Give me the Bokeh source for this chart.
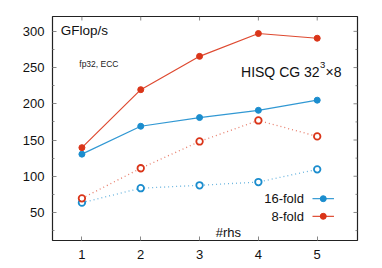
import math
from bokeh.plotting import figure
from bokeh.models import Range1d, FixedTicker
from bokeh.core.properties import value
from bokeh.embed import file_html
from bokeh.resources import INLINE

rhs = [1, 2, 3, 4, 5]
fold16_solid = [130.5, 169, 181, 191, 205]
fold8_solid = [139.5, 219.5, 265.5, 297, 290.5]
fold16_dotted = [63.5, 83.5, 87.5, 92, 109.5]
fold8_dotted = [69.5, 111, 148, 177, 155]
series_names = ["16-fold", "8-fold"]
x_ticks = [1, 2, 3, 4, 5]
y_ticks = [50, 100, 150, 200, 250, 300]
y_minor = [25, 75, 125, 175, 225, 275]

BLUE = "#1b8dce"
RED = "#da3519"
FONT = "Liberation Sans"

x0, x1 = 0.5, 5.685
y0, y1 = 11.3, 320.5

p = figure(width=382, height=268, output_backend="svg", toolbar_location=None,
           x_range=Range1d(x0, x1), y_range=Range1d(y0, y1),
           min_border_left=52, min_border_right=25, min_border_top=16, min_border_bottom=28)
p.grid.visible = False
p.outline_line_color = "#222222"
p.outline_line_width = 1.2
p.background_fill_color = "white"
p.border_fill_color = "white"

for ax in (p.xaxis[0], p.yaxis[0]):
    ax.axis_line_color = None
    ax.major_tick_in = 4
    ax.major_tick_out = 0
    ax.minor_tick_in = 2
    ax.minor_tick_out = 0
    ax.major_tick_line_color = "#888888"
    ax.minor_tick_line_color = "#888888"
    ax.major_label_text_font = FONT
    ax.major_label_text_font_size = "13px"
    ax.major_label_text_color = "#111111"
p.xaxis.ticker = FixedTicker(ticks=x_ticks)
p.yaxis.ticker = FixedTicker(ticks=y_ticks, minor_ticks=y_minor)
p.xaxis.major_label_standoff = 9
p.yaxis.major_label_standoff = 8

# mirrored ticks on top and right edges (screen-length rays)
p.ray(x=x_ticks, y=[y1] * len(x_ticks), length=4, length_units="screen",
      angle=-math.pi / 2, line_color="#888888", line_width=1)
p.ray(x=[x1] * len(y_ticks), y=y_ticks, length=4, length_units="screen",
      angle=math.pi, line_color="#888888", line_width=1)
p.ray(x=[x1] * len(y_minor), y=y_minor, length=2, length_units="screen",
      angle=math.pi, line_color="#888888", line_width=1)

# dotted series
p.line(rhs, fold16_dotted, line_color=BLUE, line_width=1.3, line_dash="1 3", line_alpha=0.65)
p.scatter(rhs, fold16_dotted, marker="circle", size=6.5, fill_color="white",
          line_color=BLUE, line_width=1.8)
p.line(rhs, fold8_dotted, line_color=RED, line_width=1.3, line_dash="1 3", line_alpha=0.65)
p.scatter(rhs, fold8_dotted, marker="circle", size=6.5, fill_color="white",
          line_color=RED, line_width=1.8)

# solid series
p.line(rhs, fold16_solid, line_color=BLUE, line_width=1.2, line_alpha=0.9)
p.scatter(rhs, fold16_solid, marker="circle", size=6, fill_color=BLUE, line_color=BLUE)
p.line(rhs, fold8_solid, line_color=RED, line_width=1.2, line_alpha=0.9)
p.scatter(rhs, fold8_solid, marker="circle", size=6, fill_color=RED, line_color=RED)

# texts
p.text(x=[0.64], y=[300.5], text=["GFlop/s"], text_font=value(FONT), text_font_size="13.5px",
       text_baseline="middle", text_align="left", text_color="#111111")
p.text(x=[0.955], y=[255.5], text=["fp32, ECC"], text_font=value(FONT), text_font_size="8.5px",
       text_baseline="middle", text_align="left", text_color="#222222")
p.text(x=[3.705], y=[243.4], text=["HISQ CG 32"], text_font=value(FONT), text_font_size="14px",
       text_baseline="alphabetic", text_align="left", text_color="#111111")
p.text(x=[3.705], y=[243.4], text=["3"], text_font=value(FONT), text_font_size="9.5px",
       text_baseline="alphabetic", text_align="left", text_color="#111111",
       x_offset=79, y_offset=-7)
p.text(x=[3.705], y=[243.4], text=["×8"], text_font=value(FONT), text_font_size="14px",
       text_baseline="alphabetic", text_align="left", text_color="#111111",
       x_offset=84.5)
p.text(x=[3.49], y=[22.5], text=["#rhs"], text_font=value(FONT), text_font_size="13px",
       text_baseline="middle", text_align="center", text_color="#111111")

# legend (label on the left, sample on the right)
leg_y = [69, 44.7]
leg_colors = [BLUE, RED]
for name, yy, col in zip(series_names, leg_y, leg_colors):
    p.text(x=[4.775], y=[yy], text=[name], text_font=value(FONT), text_font_size="13px",
           text_baseline="middle", text_align="right", text_color="#111111")
    p.line([4.92, 5.285], [yy, yy], line_color=col, line_width=1.3, line_alpha=0.85)
    p.scatter([5.103], [yy], marker="circle", size=6, fill_color=col, line_color=col)

open("out.html", "w").write(file_html(p, INLINE))
